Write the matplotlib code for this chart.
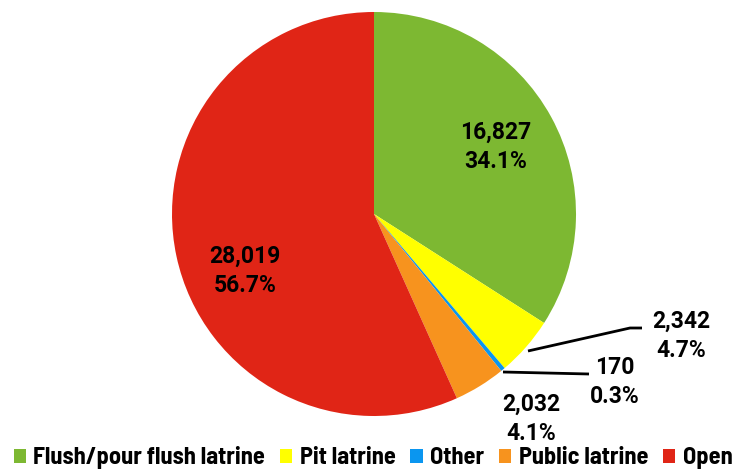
import matplotlib.pyplot as plt

categories = ['Flush/pour flush latrine', 'Pit latrine', 'Other', 'Public latrine', 'Open']
counts = [16827, 2342, 170, 2032, 28019]
colors = ['#7DB832', '#FFFF00', '#0A96F0', '#F7931E', '#E02516']

total = sum(counts)
pcts = [c / total * 100 for c in counts]
labels = ['{:,}\n{:.1f}%'.format(c, p) for c, p in zip(counts, pcts)]

W, H = 737, 472
cx, cy, r = 374, 214, 202

fig = plt.figure(figsize=(W / 100, H / 100), dpi=100)
ax = fig.add_axes([(cx - r) / W, (H - cy - r) / H, 2 * r / W, 2 * r / H])

wedges, _ = ax.pie(counts, colors=colors, startangle=90, counterclock=False,
                   radius=1, wedgeprops={'linewidth': 0})
ax.set_xlim(-1, 1)
ax.set_ylim(-1, 1)
ax.set_aspect('equal')
ax.axis('off')

def px(x, y):
    # pixel position in the reference -> data coords of the pie axes
    return ((x - cx) / r, (cy - y) / r)

lab_font = dict(family=['Roboto', 'DejaVu Sans'], fontweight='bold', fontsize=16.5,
                ha='center', va='center', linespacing=1.35)

ax.text(*px(496, 147), labels[0], **lab_font)
ax.text(*px(245, 271), labels[4], **lab_font)
ax.text(*px(531, 419), labels[3], **lab_font)
ax.text(*px(681, 336), labels[1], **lab_font)
ax.text(*px(615, 382), labels[2], **lab_font)

# leader lines
p = [px(528, 351), px(630, 328), px(642, 328)]
ax.plot([q[0] for q in p], [q[1] for q in p], color='black', lw=2, clip_on=False,
        solid_capstyle='butt')
p = [px(503, 372), px(589, 374)]
ax.plot([q[0] for q in p], [q[1] for q in p], color='black', lw=2, clip_on=False,
        solid_capstyle='butt')

leg = fig.legend(wedges, categories, loc='lower left', bbox_to_anchor=(4 / W, -7 / H),
                 ncol=5, frameon=False, handlelength=0.5, handleheight=0.5,
                 handletextpad=0.3, columnspacing=0.62, borderaxespad=0,
                 prop={'family': ['Barlow Semi Condensed', 'DejaVu Sans'],
                       'weight': 'bold', 'size': 17.5})

fig.savefig('out.png', dpi=100)
